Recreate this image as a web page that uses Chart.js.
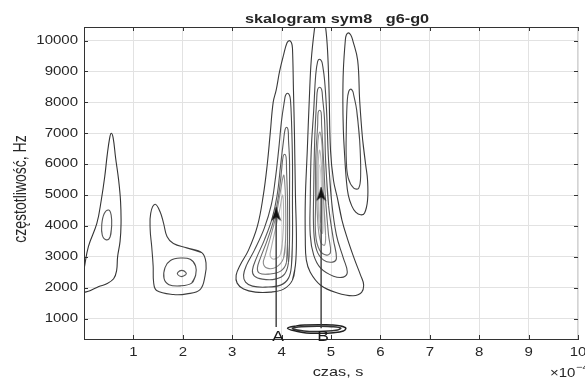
<!DOCTYPE html>
<html>
<head>
<meta charset="utf-8">
<script src="https://cdn.jsdelivr.net/npm/chart.js@4.4.0/dist/chart.umd.min.js"></script>
<style>
  html, body { margin: 0; padding: 0; background: #fff; }
  #wrap { width: 585px; height: 379px; }
</style>
</head>
<body>
<div id="wrap"><canvas id="skalogram"></canvas></div>
<script>
// osie
const xTicks = [1, 2, 3, 4, 5, 6, 7, 8, 9, 10]
const xTickLabels = ['1', '2', '3', '4', '5', '6', '7', '8', '9', '10']
const yTicks = [1000, 2000, 3000, 4000, 5000, 6000, 7000, 8000, 9000, 10000]
const yTickLabels = ['1000', '2000', '3000', '4000', '5000', '6000', '7000', '8000', '9000', '10000']

// kontury: [czas (x1e-4 s), czestotliwosc Hz]
const konturL1 = [[0, 2590], [0.09, 3340], [0.26, 4080], [0.35, 4840], [0.42, 5600], [0.47, 6300], [0.52, 6850], [0.55, 7000], [0.59, 6850], [0.64, 6200], [0.7, 5500], [0.74, 4800], [0.75, 4080], [0.73, 3500], [0.68, 3000], [0.66, 2550], [0.6, 2290], [0.45, 2120], [0.3, 2040], [0.12, 1900], [0, 1850]]
const konturL2 = [[0.5, 4516], [0.55, 4350], [0.56, 4000], [0.53, 3650], [0.45, 3550], [0.37, 3700], [0.36, 4050], [0.41, 4400], [0.5, 4516]]

const konturM1 = [[1.44, 4700], [1.54, 4460], [1.61, 4090], [1.68, 3660], [1.81, 3430], [2.08, 3290], [2.39, 3130], [2.47, 2800], [2.45, 2380], [2.35, 1940], [2.08, 1800], [1.81, 1780], [1.47, 1910], [1.41, 2160], [1.4, 2700], [1.37, 3340], [1.34, 3870], [1.35, 4410], [1.44, 4700]]
const konturM2 = [[1.95, 2960], [2.15, 2920], [2.26, 2700], [2.26, 2400], [2.18, 2150], [1.95, 2060], [1.72, 2100], [1.62, 2300], [1.64, 2650], [1.75, 2880], [1.95, 2960]]
const konturM3 = [[1.98, 2560], [2.06, 2500], [2.06, 2420], [1.98, 2360], [1.9, 2420], [1.9, 2500], [1.98, 2560]]

const konturA1 = [[4.16, 10000], [4.2, 9930], [4.22, 9753], [4.24, 8400], [4.26, 7000], [4.28, 5000], [4.3, 3540], [4.28, 2731], [4.22, 2246], [4.04, 1955], [3.77, 1857], [3.47, 1857], [3.23, 1955], [3.1, 2149], [3.08, 2408], [3.16, 2731], [3.33, 3217], [3.51, 3993], [3.63, 4996], [3.71, 5999], [3.77, 7003], [3.83, 8006], [3.89, 8394], [3.96, 9009], [4.04, 9538], [4.11, 9930], [4.16, 10000]]
const konturA2 = [[4.12, 8297], [4.16, 8230], [4.18, 8071], [4.2, 7424], [4.22, 6129], [4.22, 4835], [4.22, 3540], [4.2, 2731], [4.14, 2311], [3.98, 2084], [3.67, 2019], [3.41, 2052], [3.27, 2181], [3.23, 2408], [3.29, 2731], [3.45, 3217], [3.65, 3929], [3.79, 4673], [3.87, 5482], [3.94, 6453], [4.0, 7424], [4.06, 8071], [4.08, 8230], [4.12, 8297]]
const konturA3 = [[4.1, 7197], [4.13, 7120], [4.14, 6776], [4.16, 6129], [4.16, 4835], [4.16, 3540], [4.14, 2828], [4.06, 2440], [3.87, 2278], [3.61, 2278], [3.45, 2375], [3.41, 2569], [3.49, 2958], [3.65, 3540], [3.81, 4252], [3.91, 4996], [3.98, 5967], [4.04, 6776], [4.07, 7120], [4.1, 7197]]
const konturA4 = [[4.06, 6323], [4.09, 6240], [4.1, 5806], [4.12, 4835], [4.12, 3540], [4.1, 2828], [3.98, 2537], [3.73, 2440], [3.55, 2472], [3.51, 2634], [3.57, 2958], [3.71, 3540], [3.85, 4252], [3.94, 4996], [4.0, 5806], [4.03, 6240], [4.06, 6323]]
const konturA5 = [[4.04, 5644], [4.06, 5482], [4.08, 4835], [4.08, 3540], [4.04, 2958], [3.89, 2666], [3.71, 2634], [3.63, 2796], [3.67, 3055], [3.77, 3605], [3.89, 4349], [3.98, 5158], [4.04, 5644]]
const konturA6 = [[4.02, 4996], [4.04, 4349], [4.02, 3540], [3.98, 3088], [3.85, 2925], [3.77, 3023], [3.79, 3282], [3.87, 3864], [3.96, 4511], [4.02, 4996]]

const konturB1 = [[4.77, 10990], [4.83, 10920], [4.89, 10437], [4.93, 9688], [4.96, 8394], [4.99, 6453], [5.05, 5480], [5.13, 4900], [5.22, 4200], [5.33, 3600], [5.48, 2900], [5.6, 2400], [5.66, 2100], [5.62, 1850], [5.45, 1740], [5.13, 1830], [4.79, 2080], [4.58, 2500], [4.5, 2900], [4.48, 3540], [4.48, 4835], [4.52, 6453], [4.56, 8071], [4.6, 9365], [4.67, 10437], [4.72, 10920], [4.77, 10990]]
const konturB2 = [[4.77, 9397], [4.81, 9330], [4.83, 9203], [4.87, 8718], [4.91, 7747], [4.95, 6129], [5.01, 4835], [5.11, 3702], [5.25, 2958], [5.33, 2505], [5.25, 2343], [5.05, 2375], [4.79, 2634], [4.65, 3055], [4.58, 3702], [4.58, 4835], [4.6, 6453], [4.65, 7747], [4.69, 8879], [4.73, 9330], [4.77, 9397]]
const konturB3 = [[4.77, 8491], [4.81, 8420], [4.83, 8135], [4.87, 7424], [4.89, 6129], [4.95, 4673], [5.05, 3540], [5.11, 2958], [5.03, 2828], [4.85, 2893], [4.71, 3217], [4.65, 3864], [4.65, 5158], [4.67, 6776], [4.71, 8071], [4.73, 8420], [4.77, 8491]]
const konturB4 = [[4.77, 7747], [4.8, 7680], [4.81, 7262], [4.85, 6129], [4.89, 4835], [4.95, 3702], [4.99, 3152], [4.91, 3055], [4.77, 3217], [4.69, 3702], [4.69, 4835], [4.69, 6129], [4.73, 7262], [4.74, 7680], [4.77, 7747]]
const konturB5 = [[4.77, 7035], [4.81, 6776], [4.83, 6129], [4.85, 4835], [4.89, 3702], [4.87, 3378], [4.79, 3476], [4.73, 4187], [4.71, 5482], [4.73, 6614], [4.77, 7035]]
const konturB6 = [[4.77, 6453], [4.81, 5806], [4.83, 4511], [4.83, 3767], [4.77, 3929], [4.74, 4835], [4.74, 5967], [4.77, 6453]]
const konturB7 = [[4.77, 5967], [4.8, 5482], [4.81, 4673], [4.79, 4122], [4.76, 4511], [4.75, 5482], [4.77, 5967]]

const konturC1 = [[5.35, 10250], [5.4, 10180], [5.44, 10010], [5.54, 9360], [5.58, 8070], [5.64, 6800], [5.7, 6000], [5.74, 5480], [5.74, 4835], [5.68, 4420], [5.6, 4360], [5.5, 4446], [5.42, 4650], [5.35, 5000], [5.31, 5500], [5.27, 6450], [5.25, 7100], [5.24, 8070], [5.25, 9040], [5.29, 10010], [5.31, 10180], [5.35, 10250]]
const konturC2 = [[5.4, 8430], [5.44, 8360], [5.46, 8232], [5.52, 7747], [5.58, 6776], [5.6, 5644], [5.56, 5223], [5.46, 5223], [5.35, 5547], [5.31, 6129], [5.31, 7100], [5.33, 8070], [5.36, 8360], [5.4, 8430]]

const konturE1 = [[4.12, 690], [4.3, 765], [4.5, 795], [4.75, 805], [5.0, 795], [5.2, 760], [5.3, 690], [5.25, 600], [5.05, 545], [4.75, 525], [4.5, 535], [4.3, 590], [4.12, 690]]
const konturE2 = [[4.22, 680], [4.4, 735], [4.75, 755], [5.05, 740], [5.2, 690], [5.1, 620], [4.75, 580], [4.45, 600], [4.22, 680]]

// strzalki A i B
const strzalkiX = [3.89, 4.8]
const strzalkiOd = [725, 690]
const strzalkiDo = [4608, 5255]
const strzalkiOpis = ['A', 'B']

const SX = 1.25
const FONT = '"Liberation Sans", Arial, sans-serif'

const kontury = [
    [konturL1, '#333333'], [konturL2, '#555555'],
    [konturM1, '#3e3e3e'], [konturM2, '#4a4a4a'], [konturM3, '#555555'],
    [konturA1, '#3a3a3a'], [konturA2, '#484848'], [konturA3, '#585858'], [konturA4, '#6a6a6a'], [konturA5, '#8c8c8c'], [konturA6, '#b0b0b0'],
    [konturB1, '#3a3a3a'], [konturB2, '#484848'], [konturB3, '#585858'], [konturB4, '#6e6e6e'], [konturB5, '#959595'], [konturB6, '#b5b5b5'], [konturB7, '#cccccc'],
    [konturC1, '#3a3a3a'], [konturC2, '#484848'],
    [konturE1, '#222222'], [konturE2, '#333333']
]

// zamkniety kontur zaczynamy w polowie boku, zeby wygladzenie nie robilo ostrza
function obroc(punkty) {
    const a = punkty[0], b = punkty[punkty.length - 1]
    if (a[0] !== b[0] || a[1] !== b[1]) return punkty
    const p = punkty.slice(0, -1)
    const k = Math.round(p.length / 4)
    const r = p.slice(k).concat(p.slice(0, k))
    return r.concat([r[0], r[1]])
}

// grot strzalki, czubek w srodku obrazka
function grot() {
    const c = document.createElement('canvas')
    c.width = 11
    c.height = 30
    const g = c.getContext('2d')
    g.fillStyle = '#111'
    g.beginPath()
    g.moveTo(5.5, 15)
    g.lineTo(10.5, 29)
    g.lineTo(5.5, 25)
    g.lineTo(0.5, 29)
    g.closePath()
    g.fill()
    return c
}
const glowka = grot()

const zbiory = []
strzalkiX.forEach((x, i) => {
    zbiory.push({
        data: [{ x: x, y: strzalkiOd[i] }, { x: x, y: strzalkiDo[i] }],
        showLine: true,
        borderColor: '#3a3a3a',
        borderWidth: 1.4,
        tension: 0,
        pointRadius: c => c.dataIndex === 1 ? 5 : 0,
        pointStyle: c => c.dataIndex === 1 ? glowka : 'circle'
    })
})
kontury.forEach(([punkty, kolor], i) => {
    zbiory.push({
        data: obroc(punkty).map(([x, y]) => ({ x, y })),
        showLine: true,
        borderColor: kolor,
        borderWidth: i >= kontury.length - 2 ? 1.5 : 1.1,
        tension: 0.4,
        pointRadius: 0,
        fill: false
    })
})

function tekst(ctx, s, x, y, font, align) {
    ctx.save()
    ctx.font = font
    ctx.textAlign = align
    ctx.textBaseline = 'middle'
    ctx.translate(x, y)
    ctx.scale(SX, 1)
    ctx.fillText(s, 0, 0)
    ctx.restore()
}

const opisy = {
    id: 'opisy',
    afterDraw(chart) {
        const { ctx, chartArea: a, scales: { x, y } } = chart
        ctx.save()
        // gorna i prawa krawedz
        ctx.lineWidth = 1
        ctx.strokeStyle = '#d4d4d4'
        ctx.beginPath()
        ctx.moveTo(a.right - 0.5, a.top)
        ctx.lineTo(a.right - 0.5, a.bottom)
        ctx.stroke()
        ctx.strokeStyle = '#333'
        ctx.beginPath()
        ctx.moveTo(a.left, a.top + 0.5)
        ctx.lineTo(a.right, a.top + 0.5)
        ctx.stroke()
        // znaczniki do srodka
        ctx.beginPath()
        xTicks.forEach(v => {
            const px = Math.round(x.getPixelForValue(v)) + 0.5
            ctx.moveTo(px, a.bottom)
            ctx.lineTo(px, a.bottom - 4)
            ctx.moveTo(px, a.top)
            ctx.lineTo(px, a.top + 4)
        })
        yTicks.forEach(v => {
            const py = Math.round(y.getPixelForValue(v)) + 0.5
            ctx.moveTo(a.left, py)
            ctx.lineTo(a.left + 4, py)
            ctx.moveTo(a.right, py)
            ctx.lineTo(a.right - 4, py)
        })
        ctx.stroke()

        ctx.fillStyle = '#262626'
        const f12 = '12px ' + FONT
        xTicks.forEach((v, i) => tekst(ctx, xTickLabels[i], x.getPixelForValue(v), 353, f12, 'center'))
        yTicks.forEach((v, i) => tekst(ctx, yTickLabels[i], 78, y.getPixelForValue(v), f12, 'right'))

        tekst(ctx, 'skalogram sym8   g6-g0', 337, 19, 'bold 13px ' + FONT, 'center')
        tekst(ctx, 'czas, s', 338, 372, '13px ' + FONT, 'center')
        tekst(ctx, '\u00d710', 550, 374, '12px ' + FONT, 'left')
        tekst(ctx, '\u22124', 576, 368, '9px ' + FONT, 'left')

        // opis osi y
        ctx.save()
        ctx.font = '14px ' + FONT
        ctx.textAlign = 'center'
        ctx.textBaseline = 'middle'
        ctx.translate(21, 189)
        ctx.scale(SX, 1)
        ctx.rotate(-Math.PI / 2)
        ctx.fillText('częstotliwość, Hz', 0, 0)
        ctx.restore()

        // litery przy strzalkach
        ctx.fillStyle = '#1a1a1a'
        strzalkiX.forEach((v, i) => tekst(ctx, strzalkiOpis[i], x.getPixelForValue(v) + 2, a.bottom - 2, '14px ' + FONT, 'center'))
        ctx.restore()
    }
}

new Chart(document.getElementById('skalogram'), {
    type: 'scatter',
    data: { datasets: zbiory },
    options: {
        responsive: true,
        maintainAspectRatio: false,
        animation: false,
        devicePixelRatio: 1,
        events: [],
        layout: { padding: { top: 27, right: 7, left: 0, bottom: 0 } },
        plugins: { legend: { display: false }, tooltip: { enabled: false } },
        scales: {
            x: {
                type: 'linear',
                min: 0,
                max: 10,
                afterBuildTicks: s => { s.ticks = xTicks.map(v => ({ value: v })) },
                afterFit: s => { s.height = 40 },
                ticks: { display: false },
                grid: { color: '#e2e2e2', drawTicks: false },
                border: { color: '#333', width: 1 }
            },
            y: {
                type: 'linear',
                min: 340,
                max: 10440,
                afterBuildTicks: s => { s.ticks = yTicks.map(v => ({ value: v })) },
                afterFit: s => { s.width = 84 },
                ticks: { display: false },
                grid: { color: '#e2e2e2', drawTicks: false },
                border: { color: '#333', width: 1 }
            }
        }
    },
    plugins: [opisy]
})
</script>
</body>
</html>
